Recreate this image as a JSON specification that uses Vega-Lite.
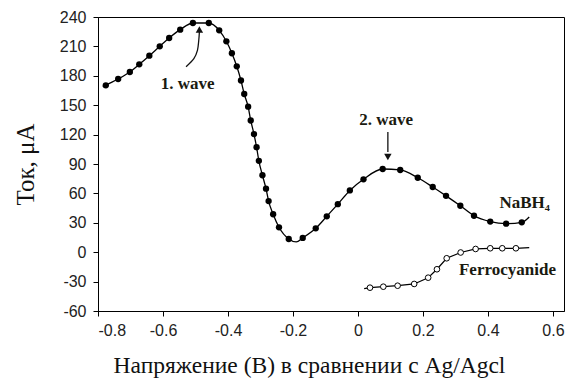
{
  "$schema": "https://vega.github.io/schema/vega-lite/v6.json",
  "width": 466,
  "height": 294,
  "autosize": {"type": "none"},
  "padding": {"left": 98, "top": 17, "right": 10, "bottom": 79},
  "background": "white",
  "config": {
    "view": {"stroke": "#000", "strokeWidth": 1},
    "axis": {
      "grid": false,
      "domainColor": "#000",
      "domainWidth": 1,
      "tickColor": "#000",
      "tickSize": 5,
      "labelFont": "Liberation Sans",
      "labelFontSize": 16,
      "labelColor": "#222",
      "labelOverlap": false,
      "titleFont": "Liberation Serif",
      "titleFontWeight": "normal",
      "titleColor": "#111"
    }
  },
  "datasets": {
    "nabh4_points": [
      {"v": -0.776, "i": 170.3}, {"v": -0.738, "i": 176.7}, {"v": -0.702, "i": 183.9},
      {"v": -0.673, "i": 191.7}, {"v": -0.642, "i": 200.5}, {"v": -0.61, "i": 210.1},
      {"v": -0.581, "i": 218.6}, {"v": -0.547, "i": 227.1}, {"v": -0.508, "i": 233.9},
      {"v": -0.459, "i": 233.9}, {"v": -0.427, "i": 226.4}, {"v": -0.405, "i": 215.2},
      {"v": -0.388, "i": 203}, {"v": -0.373, "i": 189.7}, {"v": -0.36, "i": 175.2},
      {"v": -0.35, "i": 161.4}, {"v": -0.338, "i": 148.5}, {"v": -0.33, "i": 134.4},
      {"v": -0.32, "i": 120.5}, {"v": -0.312, "i": 107.1}, {"v": -0.305, "i": 93.2},
      {"v": -0.294, "i": 78.5}, {"v": -0.283, "i": 64.8}, {"v": -0.275, "i": 52.2},
      {"v": -0.261, "i": 38.7}, {"v": -0.243, "i": 25.4}, {"v": -0.213, "i": 13.5},
      {"v": -0.17, "i": 14.6}, {"v": -0.13, "i": 24.4}, {"v": -0.096, "i": 36.6},
      {"v": -0.062, "i": 49}, {"v": -0.025, "i": 63}, {"v": 0.017, "i": 74.4},
      {"v": 0.076, "i": 84.9}, {"v": 0.13, "i": 83.9}, {"v": 0.184, "i": 76},
      {"v": 0.23, "i": 66.5}, {"v": 0.271, "i": 57.5}, {"v": 0.315, "i": 47.4},
      {"v": 0.357, "i": 37.2}, {"v": 0.407, "i": 31.2}, {"v": 0.456, "i": 29.1},
      {"v": 0.504, "i": 30.5}
    ],
    "nabh4_line": [
      {"v": -0.785, "i": 168.6}, {"v": -0.776, "i": 170.3}, {"v": -0.738, "i": 176.7}, {"v": -0.702, "i": 183.9},
      {"v": -0.673, "i": 191.7}, {"v": -0.642, "i": 200.5}, {"v": -0.61, "i": 210.1},
      {"v": -0.581, "i": 218.6}, {"v": -0.547, "i": 227.1}, {"v": -0.508, "i": 233.9},
      {"v": -0.459, "i": 233.9}, {"v": -0.427, "i": 226.4}, {"v": -0.405, "i": 215.2},
      {"v": -0.388, "i": 203}, {"v": -0.373, "i": 189.7}, {"v": -0.36, "i": 175.2},
      {"v": -0.35, "i": 161.4}, {"v": -0.338, "i": 148.5}, {"v": -0.33, "i": 134.4},
      {"v": -0.32, "i": 120.5}, {"v": -0.312, "i": 107.1}, {"v": -0.305, "i": 93.2},
      {"v": -0.294, "i": 78.5}, {"v": -0.283, "i": 64.8}, {"v": -0.275, "i": 52.2},
      {"v": -0.261, "i": 38.7}, {"v": -0.243, "i": 25.4}, {"v": -0.213, "i": 13.5},
      {"v": -0.19, "i": 10.5},
      {"v": -0.17, "i": 14.6}, {"v": -0.13, "i": 24.4}, {"v": -0.096, "i": 36.6},
      {"v": -0.062, "i": 49}, {"v": -0.025, "i": 63}, {"v": 0.017, "i": 74.4},
      {"v": 0.076, "i": 84.9}, {"v": 0.13, "i": 83.9}, {"v": 0.184, "i": 76},
      {"v": 0.23, "i": 66.5}, {"v": 0.271, "i": 57.5}, {"v": 0.315, "i": 47.4},
      {"v": 0.357, "i": 37.2}, {"v": 0.407, "i": 31.2}, {"v": 0.456, "i": 29.1},
      {"v": 0.504, "i": 30.5}, {"v": 0.527, "i": 36}
    ],
    "ferro_points": [
      {"v": 0.037, "i": -36.2}, {"v": 0.078, "i": -35.2}, {"v": 0.122, "i": -34.2},
      {"v": 0.173, "i": -32.4}, {"v": 0.216, "i": -26}, {"v": 0.243, "i": -17.4},
      {"v": 0.273, "i": -6.2}, {"v": 0.316, "i": -0.3}, {"v": 0.362, "i": 3.3},
      {"v": 0.407, "i": 4}, {"v": 0.444, "i": 4}, {"v": 0.486, "i": 4}
    ],
    "ferro_line": [
      {"v": 0.019, "i": -37.2},
      {"v": 0.037, "i": -36.2}, {"v": 0.078, "i": -35.2}, {"v": 0.122, "i": -34.2},
      {"v": 0.173, "i": -32.4}, {"v": 0.216, "i": -26}, {"v": 0.243, "i": -17.4},
      {"v": 0.273, "i": -6.2}, {"v": 0.316, "i": -0.3}, {"v": 0.362, "i": 3.3},
      {"v": 0.407, "i": 4}, {"v": 0.444, "i": 4}, {"v": 0.486, "i": 4},
      {"v": 0.527, "i": 4.6}
    ],
    "arrows": [
      {"arrow": "1. wave", "order": 1, "v": -0.529, "i": 189.3},
      {"arrow": "1. wave", "order": 2, "v": -0.505, "i": 197.5},
      {"arrow": "1. wave", "order": 3, "v": -0.494, "i": 206},
      {"arrow": "1. wave", "order": 4, "v": -0.49, "i": 216},
      {"arrow": "1. wave", "order": 5, "v": -0.488, "i": 224.7},
      {"arrow": "2. wave", "order": 1, "v": 0.092, "i": 122.7},
      {"arrow": "2. wave", "order": 2, "v": 0.092, "i": 102.2}
    ],
    "heads": [
      {"arrow": "1. wave", "v": -0.488, "i": 227.2},
      {"arrow": "2. wave", "v": 0.092, "i": 97.1}
    ],
    "labels": [
      {"text": "1. wave", "v": -0.524, "i": 171.6},
      {"text": "2. wave", "v": 0.087, "i": 134.9},
      {"text": "NaBH₄", "v": 0.513, "i": 50.2},
      {"text": "Ferrocyanide", "v": 0.46, "i": -18.2}
    ]
  },
  "encoding": {
    "x": {
      "field": "v", "type": "quantitative",
      "scale": {"domain": [-0.8, 0.634], "nice": false, "zero": false},
      "axis": {
        "values": [-0.8, -0.6, -0.4, -0.2, 0, 0.2, 0.4, 0.6],
        "labelExpr": "toString(datum.value)",
        "labelPadding": 6,
        "title": "Напряжение (В) в сравнении с Ag/Agcl",
        "titleFontSize": 23.5,
        "titleX": 211,
        "titleY": 54,
        "titleBaseline": "middle",
        "titleAlign": "center"
      }
    },
    "y": {
      "field": "i", "type": "quantitative",
      "scale": {"domain": [-60, 240], "nice": false, "zero": false},
      "axis": {
        "values": [-60, -30, 0, 30, 60, 90, 120, 150, 180, 210, 240],
        "tickCount": 11,
        "labelExpr": "toString(datum.value)",
        "labelPadding": 7,
        "labelOverlap": false,
        "labelBound": false,
        "title": "Ток, μA",
        "titleFontSize": 25,
        "titleX": -73,
        "titleY": 147,
        "titleAngle": -90,
        "titleBaseline": "middle",
        "titleAlign": "center"
      }
    }
  },
  "layer": [
    {
      "data": {"name": "nabh4_line"},
      "mark": {"type": "line", "interpolate": "monotone", "color": "#000", "strokeWidth": 1.3}
    },
    {
      "data": {"name": "nabh4_points"},
      "mark": {"type": "circle", "color": "#000", "size": 40, "opacity": 1}
    },
    {
      "data": {"name": "ferro_line"},
      "mark": {"type": "line", "interpolate": "linear", "color": "#000", "strokeWidth": 1.2}
    },
    {
      "data": {"name": "ferro_points"},
      "mark": {"type": "point", "shape": "circle", "filled": false, "fill": "white", "fillOpacity": 1, "stroke": "#000", "strokeWidth": 1, "size": 32, "opacity": 1}
    },
    {
      "data": {"name": "arrows"},
      "mark": {"type": "line", "interpolate": "cardinal", "color": "#111", "strokeWidth": 1.3},
      "encoding": {
        "detail": {"field": "arrow"},
        "order": {"field": "order", "type": "quantitative"}
      }
    },
    {
      "data": {"name": "heads"},
      "mark": {"type": "point", "filled": true, "color": "#111", "size": 55, "opacity": 1},
      "encoding": {
        "shape": {"field": "arrow", "type": "nominal", "scale": {"domain": ["1. wave", "2. wave"], "range": ["triangle-up", "triangle-down"]}, "legend": null}
      }
    },
    {
      "data": {"name": "labels"},
      "mark": {"type": "text", "font": "Liberation Serif", "fontWeight": "bold", "fontSize": 17, "color": "#1a1a10", "align": "center", "baseline": "middle"},
      "encoding": {
        "text": {"field": "text"}
      }
    }
  ]
}
